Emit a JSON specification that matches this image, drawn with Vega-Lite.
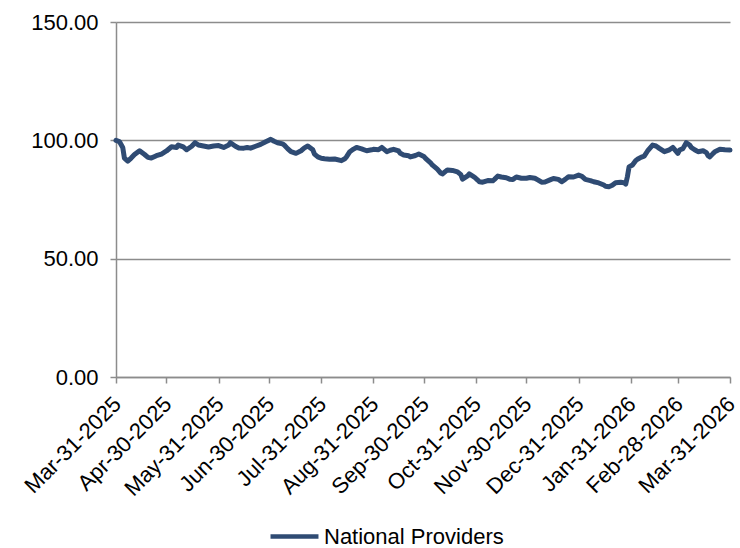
{
  "$schema": "https://vega.github.io/schema/vega-lite/v6.json",
  "autosize": {"type": "none"},
  "padding": {"left": 116, "top": 22, "right": 10, "bottom": 171},
  "width": 614,
  "height": 355,
  "background": "white",
  "config": {
    "view": {"stroke": null},
    "font": "Liberation Sans"
  },
  "data": {
    "values": [
      {"date": "2025-03-31T00:00", "value": 100.0},
      {"date": "2025-04-02T00:00", "value": 99.5},
      {"date": "2025-04-04T00:00", "value": 97.0},
      {"date": "2025-04-05T00:00", "value": 92.5},
      {"date": "2025-04-07T00:00", "value": 91.2},
      {"date": "2025-04-09T00:00", "value": 92.5},
      {"date": "2025-04-11T00:00", "value": 94.0},
      {"date": "2025-04-14T00:00", "value": 95.6},
      {"date": "2025-04-17T00:00", "value": 94.0},
      {"date": "2025-04-19T00:00", "value": 92.8},
      {"date": "2025-04-21T00:00", "value": 92.5},
      {"date": "2025-04-24T00:00", "value": 93.5},
      {"date": "2025-04-27T00:00", "value": 94.2},
      {"date": "2025-04-30T00:00", "value": 95.5},
      {"date": "2025-05-03T00:00", "value": 97.3},
      {"date": "2025-05-06T00:00", "value": 97.0},
      {"date": "2025-05-07T00:00", "value": 98.0},
      {"date": "2025-05-10T00:00", "value": 97.2},
      {"date": "2025-05-12T00:00", "value": 96.0},
      {"date": "2025-05-15T00:00", "value": 97.5},
      {"date": "2025-05-17T00:00", "value": 99.0},
      {"date": "2025-05-19T00:00", "value": 98.0},
      {"date": "2025-05-22T00:00", "value": 97.6},
      {"date": "2025-05-25T00:00", "value": 97.2},
      {"date": "2025-05-28T00:00", "value": 97.6},
      {"date": "2025-05-31T00:00", "value": 97.8},
      {"date": "2025-06-03T00:00", "value": 97.0},
      {"date": "2025-06-06T00:00", "value": 98.0},
      {"date": "2025-06-07T00:00", "value": 99.0},
      {"date": "2025-06-10T00:00", "value": 97.5},
      {"date": "2025-06-12T00:00", "value": 96.8},
      {"date": "2025-06-15T00:00", "value": 96.7},
      {"date": "2025-06-17T00:00", "value": 97.0},
      {"date": "2025-06-19T00:00", "value": 96.7},
      {"date": "2025-06-22T00:00", "value": 97.5},
      {"date": "2025-06-25T00:00", "value": 98.3},
      {"date": "2025-06-28T00:00", "value": 99.4},
      {"date": "2025-07-01T00:00", "value": 100.4},
      {"date": "2025-07-03T00:00", "value": 99.6},
      {"date": "2025-07-05T00:00", "value": 99.0},
      {"date": "2025-07-08T00:00", "value": 98.5},
      {"date": "2025-07-09T00:00", "value": 98.0},
      {"date": "2025-07-11T00:00", "value": 96.5},
      {"date": "2025-07-13T00:00", "value": 95.2},
      {"date": "2025-07-16T00:00", "value": 94.5},
      {"date": "2025-07-19T00:00", "value": 95.6},
      {"date": "2025-07-21T00:00", "value": 96.8},
      {"date": "2025-07-23T00:00", "value": 97.6},
      {"date": "2025-07-26T00:00", "value": 96.0},
      {"date": "2025-07-27T00:00", "value": 94.2},
      {"date": "2025-07-29T00:00", "value": 93.0},
      {"date": "2025-07-31T00:00", "value": 92.4},
      {"date": "2025-08-02T00:00", "value": 92.2},
      {"date": "2025-08-05T00:00", "value": 92.0},
      {"date": "2025-08-08T00:00", "value": 92.1},
      {"date": "2025-08-12T00:00", "value": 91.4},
      {"date": "2025-08-14T00:00", "value": 92.2},
      {"date": "2025-08-15T00:00", "value": 93.0},
      {"date": "2025-08-17T00:00", "value": 95.2},
      {"date": "2025-08-19T00:00", "value": 96.2},
      {"date": "2025-08-21T00:00", "value": 97.0},
      {"date": "2025-08-24T00:00", "value": 96.4},
      {"date": "2025-08-27T00:00", "value": 95.6},
      {"date": "2025-08-30T00:00", "value": 96.0},
      {"date": "2025-08-31T00:00", "value": 96.2},
      {"date": "2025-09-03T00:00", "value": 96.0},
      {"date": "2025-09-05T00:00", "value": 97.0},
      {"date": "2025-09-08T00:00", "value": 95.2},
      {"date": "2025-09-10T00:00", "value": 95.8},
      {"date": "2025-09-12T00:00", "value": 96.2},
      {"date": "2025-09-15T00:00", "value": 95.5},
      {"date": "2025-09-16T00:00", "value": 94.5},
      {"date": "2025-09-18T00:00", "value": 93.8},
      {"date": "2025-09-21T00:00", "value": 93.5},
      {"date": "2025-09-22T00:00", "value": 93.0},
      {"date": "2025-09-25T00:00", "value": 93.6},
      {"date": "2025-09-27T00:00", "value": 94.2},
      {"date": "2025-09-30T00:00", "value": 93.2},
      {"date": "2025-10-01T00:00", "value": 92.4},
      {"date": "2025-10-04T00:00", "value": 90.5},
      {"date": "2025-10-05T00:00", "value": 89.6},
      {"date": "2025-10-08T00:00", "value": 87.8},
      {"date": "2025-10-10T00:00", "value": 86.2},
      {"date": "2025-10-11T00:00", "value": 85.8},
      {"date": "2025-10-14T00:00", "value": 87.5},
      {"date": "2025-10-17T00:00", "value": 87.3},
      {"date": "2025-10-20T00:00", "value": 86.7},
      {"date": "2025-10-22T00:00", "value": 85.5},
      {"date": "2025-10-23T00:00", "value": 83.6},
      {"date": "2025-10-26T00:00", "value": 85.0},
      {"date": "2025-10-27T00:00", "value": 85.8},
      {"date": "2025-10-30T00:00", "value": 84.5},
      {"date": "2025-11-01T00:00", "value": 83.2},
      {"date": "2025-11-02T00:00", "value": 82.5},
      {"date": "2025-11-04T00:00", "value": 82.3},
      {"date": "2025-11-07T00:00", "value": 83.0},
      {"date": "2025-11-10T00:00", "value": 82.9},
      {"date": "2025-11-11T00:00", "value": 83.5},
      {"date": "2025-11-13T00:00", "value": 84.9},
      {"date": "2025-11-15T00:00", "value": 84.5},
      {"date": "2025-11-18T00:00", "value": 84.2},
      {"date": "2025-11-20T00:00", "value": 83.6},
      {"date": "2025-11-22T00:00", "value": 83.5},
      {"date": "2025-11-24T00:00", "value": 84.5},
      {"date": "2025-11-27T00:00", "value": 84.0},
      {"date": "2025-11-30T00:00", "value": 84.0},
      {"date": "2025-12-02T00:00", "value": 84.3},
      {"date": "2025-12-05T00:00", "value": 84.0},
      {"date": "2025-12-07T00:00", "value": 83.2},
      {"date": "2025-12-09T00:00", "value": 82.3},
      {"date": "2025-12-11T00:00", "value": 82.4},
      {"date": "2025-12-14T00:00", "value": 83.3},
      {"date": "2025-12-16T00:00", "value": 83.9},
      {"date": "2025-12-19T00:00", "value": 83.5},
      {"date": "2025-12-21T00:00", "value": 82.5},
      {"date": "2025-12-23T00:00", "value": 83.5},
      {"date": "2025-12-25T00:00", "value": 84.6},
      {"date": "2025-12-28T00:00", "value": 84.5},
      {"date": "2025-12-31T00:00", "value": 85.3},
      {"date": "2026-01-02T00:00", "value": 84.8},
      {"date": "2026-01-04T00:00", "value": 83.5},
      {"date": "2026-01-07T00:00", "value": 83.0},
      {"date": "2026-01-09T00:00", "value": 82.5},
      {"date": "2026-01-12T00:00", "value": 82.0},
      {"date": "2026-01-15T00:00", "value": 81.1},
      {"date": "2026-01-16T00:00", "value": 80.6},
      {"date": "2026-01-18T00:00", "value": 80.4},
      {"date": "2026-01-20T00:00", "value": 81.0},
      {"date": "2026-01-22T00:00", "value": 82.1},
      {"date": "2026-01-25T00:00", "value": 82.3},
      {"date": "2026-01-27T00:00", "value": 82.1},
      {"date": "2026-01-28T00:00", "value": 81.5},
      {"date": "2026-01-29T00:00", "value": 84.6},
      {"date": "2026-01-30T00:00", "value": 88.8},
      {"date": "2026-02-01T00:00", "value": 89.6},
      {"date": "2026-02-03T00:00", "value": 91.5},
      {"date": "2026-02-04T00:00", "value": 92.0},
      {"date": "2026-02-06T00:00", "value": 92.8},
      {"date": "2026-02-08T00:00", "value": 93.3},
      {"date": "2026-02-10T00:00", "value": 95.5},
      {"date": "2026-02-13T00:00", "value": 98.0},
      {"date": "2026-02-15T00:00", "value": 97.6},
      {"date": "2026-02-17T00:00", "value": 96.6},
      {"date": "2026-02-20T00:00", "value": 95.2},
      {"date": "2026-02-23T00:00", "value": 96.0},
      {"date": "2026-02-25T00:00", "value": 97.0},
      {"date": "2026-02-28T00:00", "value": 94.5},
      {"date": "2026-03-01T00:00", "value": 95.9},
      {"date": "2026-03-03T00:00", "value": 96.5},
      {"date": "2026-03-05T00:00", "value": 99.0},
      {"date": "2026-03-07T00:00", "value": 98.0},
      {"date": "2026-03-08T00:00", "value": 97.0},
      {"date": "2026-03-10T00:00", "value": 96.0},
      {"date": "2026-03-12T00:00", "value": 95.2},
      {"date": "2026-03-15T00:00", "value": 95.6},
      {"date": "2026-03-17T00:00", "value": 94.8},
      {"date": "2026-03-18T00:00", "value": 93.5},
      {"date": "2026-03-19T00:00", "value": 93.0},
      {"date": "2026-03-21T00:00", "value": 94.5},
      {"date": "2026-03-22T00:00", "value": 95.2},
      {"date": "2026-03-25T00:00", "value": 96.2},
      {"date": "2026-03-28T00:00", "value": 96.0},
      {"date": "2026-03-31T00:00", "value": 95.9}
    ]
  },
  "mark": {"type": "line", "strokeWidth": 5, "strokeJoin": "round", "strokeCap": "round"},
  "encoding": {
    "x": {
      "field": "date",
      "type": "temporal",
      "title": null,
      "scale": {
        "domain": [
          {"year": 2025, "month": 3, "date": 31},
          {"year": 2026, "month": 3, "date": 31}
        ],
        "nice": false
      },
      "axis": {
        "values": [
          {"year": 2025, "month": 3, "date": 31},
          {"year": 2025, "month": 4, "date": 30},
          {"year": 2025, "month": 5, "date": 31},
          {"year": 2025, "month": 6, "date": 30},
          {"year": 2025, "month": 7, "date": 31},
          {"year": 2025, "month": 8, "date": 31},
          {"year": 2025, "month": 9, "date": 30},
          {"year": 2025, "month": 10, "date": 31},
          {"year": 2025, "month": 11, "date": 30},
          {"year": 2025, "month": 12, "date": 31},
          {"year": 2026, "month": 1, "date": 31},
          {"year": 2026, "month": 2, "date": 28},
          {"year": 2026, "month": 3, "date": 31}
        ],
        "format": "%b-%d-%Y",
        "labelAngle": -45,
        "labelAlign": "right",
        "labelBaseline": "top",
        "labelFontSize": 22,
        "labelColor": "#000000",
        "labelPadding": 10,
        "labelOffset": -6,
        "labelFlush": false,
        "labelOverlap": false,
        "labelBound": false,
        "grid": false,
        "domainColor": "#8c8c8c",
        "domainWidth": 1.5,
        "tickColor": "#8c8c8c",
        "tickWidth": 1.5,
        "tickSize": 6
      }
    },
    "y": {
      "field": "value",
      "type": "quantitative",
      "title": null,
      "scale": {"domain": [0, 150], "nice": false},
      "axis": {
        "values": [0, 50, 100, 150],
        "format": ".2f",
        "labelFontSize": 22,
        "labelColor": "#000000",
        "labelPadding": 12,
        "grid": true,
        "gridColor": "#8c8c8c",
        "gridWidth": 1.5,
        "domainColor": "#8c8c8c",
        "domainWidth": 1.5,
        "tickColor": "#8c8c8c",
        "tickWidth": 1.5,
        "tickSize": 6
      }
    },
    "color": {
      "datum": "National Providers",
      "type": "nominal",
      "scale": {"range": ["#2F4B73"]},
      "legend": {
        "title": null,
        "orient": "none",
        "legendX": 152,
        "legendY": 488,
        "symbolType": "stroke",
        "symbolStrokeWidth": 4.5,
        "symbolSize": 2300,
        "labelFontSize": 22,
        "labelColor": "#000000",
        "labelOffset": 3,
        "labelLimit": 400
      }
    }
  }
}
